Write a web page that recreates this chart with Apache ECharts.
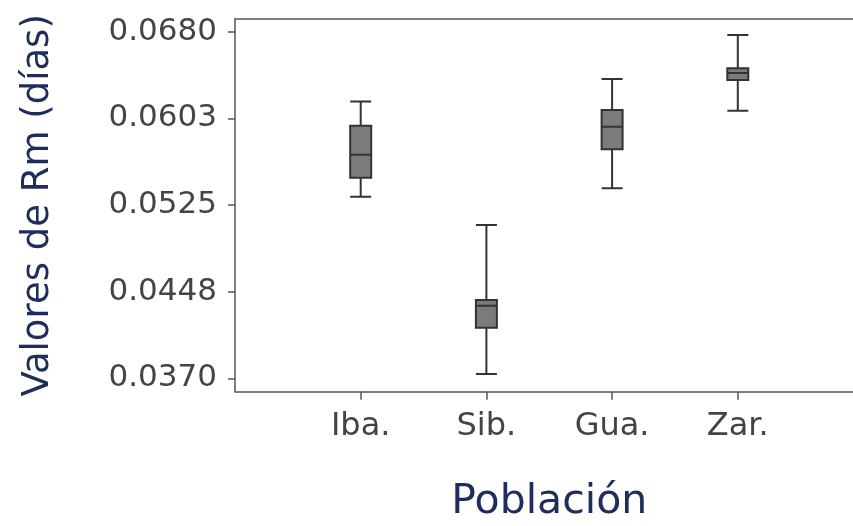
<!DOCTYPE html>
<html>
<head>
<meta charset="utf-8">
<script src="https://cdn.jsdelivr.net/npm/echarts@6/dist/echarts.min.js"></script>
<style>html,body{margin:0;padding:0;background:#fff}#c{width:853px;height:526px}</style>
</head>
<body>
<div id="c"></div>
<script>
// Categories (populations)
const categories = ['Iba.', 'Sib.', 'Gua.', 'Zar.'];
// Box statistics per population
const whiskerMin = [0.05324, 0.03739, 0.05399, 0.06093];
const q1Values   = [0.05494, 0.04153, 0.05748, 0.06368];
const medians    = [0.05700, 0.04349, 0.05950, 0.06431];
const q3Values   = [0.05959, 0.04400, 0.06100, 0.06473];
const whiskerMax = [0.06177, 0.05071, 0.06377, 0.06770];
// Y tick positions and their printed labels
const yTickValues = [0.037, 0.04475, 0.0525, 0.06025, 0.068];
const yTickLabels = ['0.0370', '0.0448', '0.0525', '0.0603', '0.0680'];

const xData = [''].concat(categories, ['']);
const boxData = categories.map((c, i) => [c, whiskerMin[i], q1Values[i], medians[i], q3Values[i], whiskerMax[i]]);

const chart = echarts.init(document.getElementById('c'), null, {renderer: 'canvas'});
const axisColor = '#555';
const font = 'DejaVu Sans';
chart.setOption({
  animation: false,
  backgroundColor: '#fff',
  grid: {left: 235, top: 19, width: 628.5, height: 372.7, show: false, containLabel: false, outerBoundsMode: 'none'},
  xAxis: [{
    type: 'category',
    data: xData,
    boundaryGap: false,
    name: 'Población',
    nameLocation: 'middle',
    nameGap: 90,
    nameTextStyle: {fontFamily: font, fontSize: 41, color: '#1f2d5c'},
    axisLine: {lineStyle: {color: axisColor, width: 1.5}},
    axisTick: {show: true, length: 8, interval: (i, v) => v !== '', lineStyle: {color: axisColor, width: 1.5}},
    axisLabel: {interval: (i, v) => v !== '', margin: 19, fontFamily: font, fontSize: 32, color: '#444'},
    splitLine: {show: false}
  }, {
    type: 'category',
    data: xData,
    boundaryGap: false,
    position: 'top',
    axisLine: {show: true, lineStyle: {color: axisColor, width: 1.5}},
    axisTick: {show: false},
    axisLabel: {show: false},
    splitLine: {show: false}
  }],
  yAxis: {
    type: 'value',
    min: 0.0358,
    max: 0.06914,
    name: 'Valores de Rm (días)',
    nameLocation: 'middle',
    nameGap: 178,
    nameTextStyle: {fontFamily: font, fontSize: 37, color: '#1f2d5c'},
    axisLine: {show: true, lineStyle: {color: axisColor, width: 1.5}},
    axisTick: {show: true, length: 7, customValues: yTickValues, lineStyle: {color: axisColor, width: 1.5}},
    axisLabel: {
      customValues: yTickValues,
      margin: 18,
      fontFamily: font, fontSize: 31, color: '#444',
      formatter: function (v) {
        let best = 0;
        for (let i = 1; i < yTickValues.length; i++) {
          if (Math.abs(yTickValues[i] - v) < Math.abs(yTickValues[best] - v)) best = i;
        }
        return yTickLabels[best];
      }
    },
    splitLine: {show: false}
  },
  series: [{
    type: 'boxplot',
    data: boxData,
    encode: {x: 0, y: [1, 2, 3, 4, 5]},
    boxWidth: [21, 21],
    itemStyle: {color: '#7b7b7b', borderColor: '#333', borderWidth: 2}
  }]
});
</script>
</body>
</html>
